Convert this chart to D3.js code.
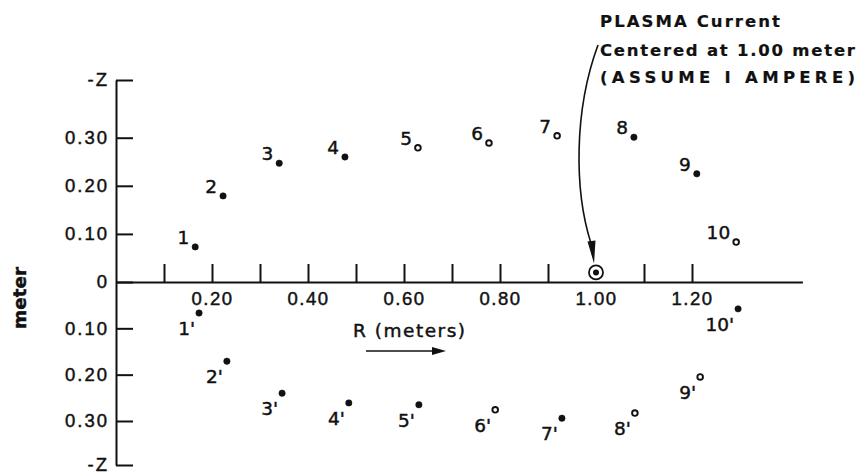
<!DOCTYPE html>
<html>
<head>
<meta charset="utf-8">
<script src="https://cdn.jsdelivr.net/npm/d3@7"></script>
<style>
  body { margin: 0; background: #fff; }
  svg { display: block; font-family: "DejaVu Sans", sans-serif; }
  svg text { stroke: #111; stroke-width: 0.45px; }
</style>
</head>
<body>
<div id="chart"></div>
<script>
// measuring points above the midplane (1..10)
var upperR = [0.165, 0.223, 0.340, 0.477, 0.629, 0.777, 0.919, 1.079, 1.210, 1.292];
var upperZ = [0.073, 0.179, 0.247, 0.260, 0.279, 0.289, 0.304, 0.301, 0.225, 0.083];
var upperLabels = ["1", "2", "3", "4", "5", "6", "7", "8", "9", "10"];
var upperRing = [0, 0, 0, 0, 1, 1, 1, 0, 0, 1];

// measuring points below the midplane (1'..10')
var lowerR = [0.173, 0.231, 0.346, 0.485, 0.631, 0.790, 0.929, 1.081, 1.217, 1.296];
var lowerZ = [-0.067, -0.171, -0.240, -0.261, -0.265, -0.276, -0.294, -0.283, -0.205, -0.058];
var lowerLabels = ["1'", "2'", "3'", "4'", "5'", "6'", "7'", "8'", "9'", "10'"];
var lowerRing = [0, 0, 0, 0, 0, 1, 0, 1, 1, 0];

// plasma current position
var plasmaR = 1.00, plasmaZ = 0.02;

// ticks
var xTickVals = [0.1, 0.2, 0.3, 0.4, 0.5, 0.6, 0.7, 0.8, 0.9, 1.1, 1.2];
var xLabelVals = [0.2, 0.4, 0.6, 0.8, 1.0, 1.2];
var xLabels = ["0.20", "0.40", "0.60", "0.80", "1.00", "1.20"];
var zTickVals = [0.42, 0.30, 0.20, 0.10, 0, -0.10, -0.20, -0.30, -0.395];
var zLabels = ["-Z", "0.30", "0.20", "0.10", "0", "0.10", "0.20", "0.30", "-Z"];

var width = 859, height = 474;
var ink = "#111";

var svg = d3.select("#chart")
  .append("svg")
  .attr("width", width)
  .attr("height", height);

var x = d3.scaleLinear()
  .domain([0, 1.43])
  .range([116, 802.4]);

var z = d3.scaleLinear()
  .domain([-0.395, 0, 0.42])
  .range([465, 282, 80]);

// X axis: tick marks pointing up
var xAxis = svg.append("g")
  .attr("transform", "translate(0," + z(0) + ")")
  .call(d3.axisTop(x).tickValues(xTickVals).tickSizeInner(18).tickSizeOuter(0).tickFormat(""));
xAxis.select(".domain").attr("stroke", ink).attr("stroke-width", 2);
xAxis.selectAll(".tick line").attr("stroke", ink).attr("stroke-width", 2);

// X labels below the axis
var xLab = svg.append("g")
  .attr("transform", "translate(0," + z(0) + ")")
  .call(d3.axisBottom(x).tickValues(xLabelVals).tickSize(0).tickPadding(10)
    .tickFormat(function(d) { return xLabels[xLabelVals.indexOf(d)]; }));
xLab.select(".domain").remove();
xLab.selectAll("text")
  .attr("fill", ink)
  .style("font-size", "18.5px")
  .style("letter-spacing", "1.5px");

// Y axis: ticks to the right, labels on the left
var yAxis = svg.append("g")
  .attr("transform", "translate(" + x(0) + ",0)")
  .call(d3.axisLeft(z).tickValues(zTickVals).tickSizeInner(-17).tickSizeOuter(0).tickPadding(7)
    .tickFormat(function(d) { return zLabels[zTickVals.indexOf(d)]; }));
yAxis.select(".domain").attr("stroke", ink).attr("stroke-width", 2);
yAxis.selectAll(".tick line").attr("stroke", ink).attr("stroke-width", 2);
yAxis.selectAll("text")
  .attr("fill", ink)
  .style("font-size", "18.5px")
  .style("letter-spacing", "2px");

// Y axis title
svg.append("text")
  .attr("transform", "translate(26,298) rotate(-90)")
  .attr("text-anchor", "middle")
  .attr("fill", ink)
  .attr("font-weight", "bold")
  .attr("font-size", 18)
  .attr("textLength", 62)
  .attr("lengthAdjust", "spacingAndGlyphs")
  .text("meter");

// R (meters) label and arrow
svg.append("text")
  .attr("x", 353)
  .attr("y", 337)
  .attr("fill", ink)
  .attr("font-size", 18.5)
  .attr("textLength", 112)
  .attr("lengthAdjust", "spacing")
  .text("R (meters)");

svg.append("line")
  .attr("x1", 366).attr("y1", 351)
  .attr("x2", 434).attr("y2", 351)
  .attr("stroke", ink).attr("stroke-width", 1.6);
svg.append("path")
  .attr("d", "M446,351 L432,347 L432,355 Z")
  .attr("fill", ink);

// points
function drawPoints(R, Z, labels, ring, cls, dx, dy) {
  var pts = R.map(function(r, i) {
    return {r: r, z: Z[i], label: labels[i], ring: ring[i]};
  });
  var g = svg.selectAll("." + cls)
    .data(pts)
    .enter()
    .append("g")
    .attr("class", cls);
  g.append("circle")
    .attr("cx", function(d) { return x(d.r); })
    .attr("cy", function(d) { return z(d.z); })
    .attr("r", function(d) { return d.ring ? 2.8 : 3.2; })
    .attr("fill", function(d) { return d.ring ? "#fff" : ink; })
    .attr("stroke", ink)
    .attr("stroke-width", function(d) { return d.ring ? 1.9 : 0.5; });
  g.append("text")
    .attr("x", function(d) { return x(d.r) + dx; })
    .attr("y", function(d) { return z(d.z) + dy; })
    .attr("text-anchor", "end")
    .attr("fill", ink)
    .attr("font-size", 18.5)
    .text(function(d) { return d.label; });
}
drawPoints(upperR, upperZ, upperLabels, upperRing, "upper", -6, -3);
drawPoints(lowerR, lowerZ, lowerLabels, lowerRing, "lower", -4, 22);

// plasma current symbol
svg.append("circle")
  .attr("cx", x(plasmaR)).attr("cy", z(plasmaZ))
  .attr("r", 7)
  .attr("fill", "#fff").attr("stroke", ink).attr("stroke-width", 1.8);
svg.append("circle")
  .attr("cx", x(plasmaR)).attr("cy", z(plasmaZ))
  .attr("r", 3)
  .attr("fill", ink);

// annotation text
var note = [
  {t: "PLASMA Current", y: 27, w: 180},
  {t: "Centered at 1.00 meter", y: 56, w: 255},
  {t: "(ASSUME I AMPERE)", y: 83, w: 255}
];
svg.selectAll(".note")
  .data(note)
  .enter()
  .append("text")
  .attr("class", "note")
  .attr("x", 600)
  .attr("y", function(d) { return d.y; })
  .attr("fill", ink)
  .attr("font-weight", "bold")
  .attr("font-size", 16.5)
  .attr("textLength", function(d) { return d.w; })
  .attr("lengthAdjust", "spacing")
  .style("stroke-width", "0.2px")
  .text(function(d) { return d.t; });

// curved arrow from the note down to the plasma
var tipX = x(plasmaR) - 2, tipY = z(plasmaZ) - 9;
var p = d3.path();
p.moveTo(598, 45);
p.bezierCurveTo(574, 110, 574, 190, tipX - 3, tipY - 20);
svg.append("path")
  .attr("d", p.toString())
  .attr("fill", "none")
  .attr("stroke", ink)
  .attr("stroke-width", 1.6);
svg.append("path")
  .attr("d", "M" + tipX + "," + tipY + " L" + (tipX - 6.5) + "," + (tipY - 22) + " L" + (tipX + 1.5) + "," + (tipY - 23) + " Z")
  .attr("fill", ink);
</script>
</body>
</html>
